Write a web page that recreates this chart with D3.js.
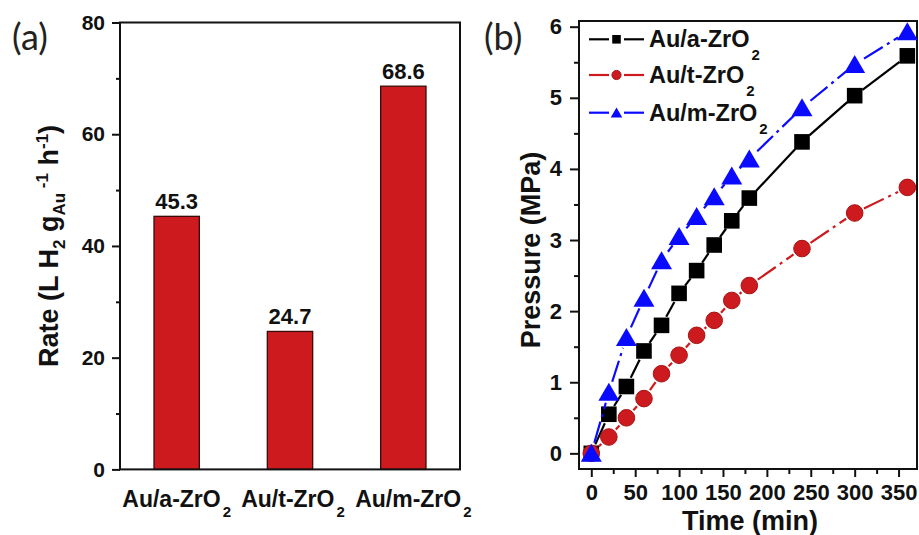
<!DOCTYPE html>
<html>
<head>
<meta charset="utf-8">
<script src="https://cdn.jsdelivr.net/npm/d3@7"></script>
<style>
  body { margin: 0; background: #fff; }
  svg { display: block; }
  .tick text { font-family: "Liberation Sans", Arial, sans-serif; font-weight: bold; fill: #111; }
</style>
</head>
<body>
<svg id="chart"></svg>
<script>
const width = 919;
const height = 535;

// panel (a) data
const categories = ["Au/a-ZrO2", "Au/t-ZrO2", "Au/m-ZrO2"];
const rates = [45.3, 24.7, 68.6];
const rateTicks = [0, 20, 40, 60, 80];
const rateMinor = [10, 30, 50, 70];

// panel (b) data
const times = [0, 20, 40, 60, 80, 100, 120, 140, 160, 180, 240, 300, 360];
const pressureA = [0, 0.55, 0.94, 1.44, 1.80, 2.25, 2.57, 2.93, 3.27, 3.59, 4.38, 5.03, 5.59];
const pressureT = [0, 0.23, 0.50, 0.77, 1.12, 1.38, 1.66, 1.87, 2.15, 2.36, 2.88, 3.38, 3.74];
const pressureM = [0, 0.86, 1.63, 2.18, 2.71, 3.05, 3.33, 3.61, 3.90, 4.14, 4.86, 5.47, 5.93];
const seriesNames = ["Au/a-ZrO2", "Au/t-ZrO2", "Au/m-ZrO2"];
const timeTicks = [0, 50, 100, 150, 200, 250, 300, 350];
const timeMinor = [25, 75, 125, 175, 225, 275, 325];
const pressureTicks = [0, 1, 2, 3, 4, 5, 6];
const pressureMinor = [0.5, 1.5, 2.5, 3.5, 4.5, 5.5];

const svg = d3.select("#chart")
  .attr("width", width)
  .attr("height", height);

const boldFont = "'Liberation Sans', Arial, sans-serif";

// ---------- panel (a) ----------
const xA = d3.scaleBand()
  .domain(categories)
  .range([120, 460])
  .paddingInner(0.6)
  .paddingOuter(0.3);

const yA = d3.scaleLinear()
  .domain([0, 80])
  .range([469.4, 22.5]);

const axA = svg.append("g")
  .attr("transform", "translate(120,0)")
  .call(d3.axisLeft(yA).tickValues(rateTicks).tickSize(8).tickPadding(7));
axA.select(".domain").remove();
axA.selectAll("line").attr("stroke", "#111").attr("stroke-width", 2);
axA.selectAll("text").attr("font-size", 21);

const axAminor = svg.append("g")
  .attr("transform", "translate(120,0)")
  .call(d3.axisLeft(yA).tickValues(rateMinor).tickSize(4).tickFormat(""));
axAminor.select(".domain").remove();
axAminor.selectAll("line").attr("stroke", "#111").attr("stroke-width", 2);

// bars
svg.selectAll(".bar")
  .data(rates)
  .join("rect")
  .attr("class", "bar")
  .attr("x", (d, i) => xA(categories[i]))
  .attr("width", xA.bandwidth())
  .attr("y", d => yA(d))
  .attr("height", d => yA(0) - yA(d))
  .attr("fill", "#cc1a1f")
  .attr("stroke", "#3a0b0b")
  .attr("stroke-width", 1.3);

// values above bars
svg.selectAll(".bar-value")
  .data(rates)
  .join("text")
  .attr("class", "bar-value")
  .attr("x", (d, i) => xA(categories[i]) + xA.bandwidth() / 2)
  .attr("y", d => yA(d) - 7)
  .attr("text-anchor", "middle")
  .attr("font-family", boldFont)
  .attr("font-weight", "bold")
  .attr("font-size", 22)
  .attr("fill", "#111")
  .text(d => d.toFixed(1));

// frame
svg.append("rect")
  .attr("x", 120).attr("y", yA(80))
  .attr("width", 340).attr("height", yA(0) - yA(80))
  .attr("fill", "none").attr("stroke", "#111").attr("stroke-width", 2);

// category labels with subscript
const catLabels = svg.selectAll(".cat")
  .data(categories)
  .join("text")
  .attr("class", "cat")
  .attr("x", (d, i) => xA(d) + xA.bandwidth() / 2 + [0, 3, 10][i])
  .attr("y", 506.5)
  .attr("text-anchor", "middle")
  .attr("font-family", boldFont)
  .attr("font-weight", "bold")
  .attr("font-size", 23)
  .attr("fill", "#111");
catLabels.append("tspan").text(d => d.slice(0, -1));
catLabels.append("tspan").attr("dx", 2).attr("dy", 10).attr("font-size", 15).text(d => d.slice(-1));

// y title
const titleA = svg.append("text")
  .attr("transform", `translate(58,${(yA(0) + yA(80)) / 2}) rotate(-90)`)
  .attr("text-anchor", "middle")
  .attr("font-family", boldFont)
  .attr("font-weight", "bold")
  .attr("font-size", 27)
  .attr("fill", "#111");
titleA.append("tspan").text("Rate (L H");
titleA.append("tspan").attr("dy", 7).attr("font-size", 17).text("2");
titleA.append("tspan").attr("dy", -7).text(" g");
titleA.append("tspan").attr("dy", 7).attr("font-size", 17).text("Au");
titleA.append("tspan").attr("dy", -17).attr("font-size", 17).text(" -1");
titleA.append("tspan").attr("dy", 10).text(" h");
titleA.append("tspan").attr("dy", -10).attr("font-size", 17).text("-1");
titleA.append("tspan").attr("dy", 10).text(")");

svg.append("text")
  .attr("x", 12).attr("y", 50)
  .attr("font-family", "Lato, 'Open Sans', sans-serif")
  .attr("font-size", 36)
  .attr("fill", "#222")
  .text("(a)");

// ---------- panel (b) ----------
const xB = d3.scaleLinear()
  .domain([-14, 371])
  .range([579, 917]);

const yB = d3.scaleLinear()
  .domain([-0.22, 6.08])
  .range([469, 21]);

function axisStyle(g, size) {
  g.select(".domain").remove();
  g.selectAll("line").attr("stroke", "#111").attr("stroke-width", 2);
  g.selectAll("text").attr("font-size", size);
}

svg.append("g")
  .attr("transform", "translate(579,0)")
  .call(d3.axisLeft(yB).tickValues(pressureTicks).tickSize(9).tickPadding(8).tickFormat(d3.format("d")))
  .call(axisStyle, 22);
svg.append("g")
  .attr("transform", "translate(579,0)")
  .call(d3.axisLeft(yB).tickValues(pressureMinor).tickSize(5).tickFormat(""))
  .call(axisStyle, 22);
svg.append("g")
  .attr("transform", "translate(0,469)")
  .call(d3.axisBottom(xB).tickValues(timeTicks).tickSize(8).tickPadding(7).tickFormat(d3.format("d")))
  .call(axisStyle, 22);
svg.append("g")
  .attr("transform", "translate(0,469)")
  .call(d3.axisBottom(xB).tickValues(timeMinor).tickSize(5).tickFormat(""))
  .call(axisStyle, 22);

svg.append("rect")
  .attr("x", 579).attr("y", 21)
  .attr("width", 338).attr("height", 448)
  .attr("fill", "none").attr("stroke", "#111").attr("stroke-width", 2);

const tri = "M0,-9.5L10.5,8.5L-10.5,8.5Z";
const series = [
  { name: seriesNames[0], values: pressureA, color: "#000", dash: null, shape: "square", r: 7.8 },
  { name: seriesNames[1], values: pressureT, color: "#cc1a1f", dash: "22,5,3,5", shape: "circle", r: 8.3 },
  { name: seriesNames[2], values: pressureM, color: "#0a0aff", dash: "22,5,3,5", shape: "triangle", r: 9 }
];

function drawMarker(g, s, x, y, scale) {
  if (s.shape === "square") {
    const h = s.r * scale;
    g.append("rect").attr("x", x - h).attr("y", y - h)
      .attr("width", 2 * h).attr("height", 2 * h).attr("fill", s.color);
  } else if (s.shape === "circle") {
    g.append("circle").attr("cx", x).attr("cy", y).attr("r", s.r * scale)
      .attr("fill", s.color).attr("stroke", "#a81212").attr("stroke-width", 1);
  } else {
    g.append("path").attr("d", tri)
      .attr("transform", `translate(${x},${y}) scale(${scale})`)
      .attr("fill", s.color);
  }
}

series.forEach(s => {
  const g = svg.append("g");
  const pts = times.map((t, i) => [xB(t), yB(s.values[i])]);
  const segs = d3.pairs(pts).map(([a, b]) => {
    const dx = b[0] - a[0], dy = b[1] - a[1];
    const len = Math.hypot(dx, dy);
    const gap = s.r + 2;
    if (len <= 2 * gap) return null;
    const ux = dx / len, uy = dy / len;
    return [a[0] + ux * gap, a[1] + uy * gap, b[0] - ux * gap, b[1] - uy * gap];
  }).filter(d => d);
  g.selectAll("line")
    .data(segs)
    .join("line")
    .attr("x1", d => d[0]).attr("y1", d => d[1])
    .attr("x2", d => d[2]).attr("y2", d => d[3])
    .attr("stroke", s.color)
    .attr("stroke-width", 2.2)
    .attr("stroke-dasharray", s.dash);
  pts.forEach(p => drawMarker(g, s, p[0], p[1], 1));
});

// legend
const legendY = [39.3, 75, 112.7];
series.forEach((s, i) => {
  const g = svg.append("g");
  const y = legendY[i];
  g.append("line").attr("x1", 589).attr("x2", 609).attr("y1", y).attr("y2", y)
    .attr("stroke", s.color).attr("stroke-width", 2.2);
  g.append("line").attr("x1", 624).attr("x2", 644).attr("y1", y).attr("y2", y)
    .attr("stroke", s.color).attr("stroke-width", 2.2);
  drawMarker(g, s, 616.5, y, 0.55);
  const t = g.append("text")
    .attr("x", 649).attr("y", y + 8)
    .attr("font-family", boldFont)
    .attr("font-weight", "bold")
    .attr("font-size", 23.5)
    .attr("fill", "#111");
  t.append("tspan").text(s.name.slice(0, -1));
  t.append("tspan").attr("dx", 2).attr("dy", 13).attr("font-size", 15).text(s.name.slice(-1));
});

svg.append("text")
  .attr("transform", `translate(540,250) rotate(-90)`)
  .attr("text-anchor", "middle")
  .attr("font-family", boldFont)
  .attr("font-weight", "bold")
  .attr("font-size", 27)
  .attr("fill", "#111")
  .text("Pressure (MPa)");

svg.append("text")
  .attr("x", 750).attr("y", 530)
  .attr("text-anchor", "middle")
  .attr("font-family", boldFont)
  .attr("font-weight", "bold")
  .attr("font-size", 27)
  .attr("fill", "#111")
  .text("Time (min)");

svg.append("text")
  .attr("x", 484).attr("y", 50)
  .attr("font-family", "Lato, 'Open Sans', sans-serif")
  .attr("font-size", 36)
  .attr("fill", "#222")
  .text("(b)");
</script>
</body>
</html>
